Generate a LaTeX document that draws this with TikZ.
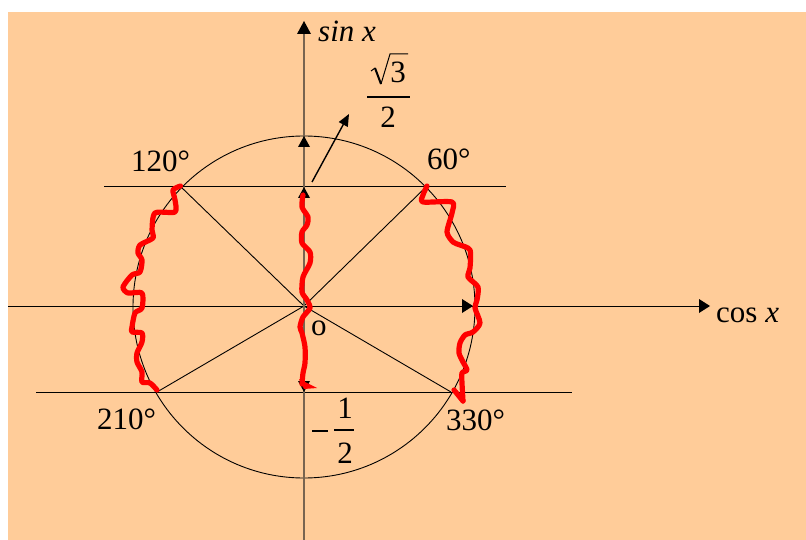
\documentclass[tikz,border=0pt]{standalone}
\usepackage{fontspec}
\setmainfont{Liberation Serif}
\usetikzlibrary{arrows.meta}
\definecolor{peach}{RGB}{255,204,153}
\definecolor{axisbrown}{RGB}{120,100,80}
\begin{document}
\begin{tikzpicture}[x=1pt,y=-1pt,
  thinline/.style={line width=0.9pt,black},
  redcurve/.style={red,line width=5.2pt,line join=round,line cap=round},
  lbl/.style={font=\fontsize{31}{36}\selectfont,inner sep=0pt},
  tip/.style={fill=black}]
\useasboundingbox (0,0) rectangle (806,540);
\fill[white] (0,0) rectangle (806,540);
\fill[peach] (8,12) rectangle (806,540);

% key points
\coordinate (O) at (304,306);
\coordinate (C) at (304,307);
\coordinate (P60) at (427,186);
\coordinate (P120) at (180,186);
\coordinate (P210) at (157,392);
\coordinate (P330) at (451,392);
\coordinate (HL1) at (104,186);
\coordinate (HR1) at (506,186);
\coordinate (HL2) at (36,392);
\coordinate (HR2) at (572,392);
\coordinate (XL) at (8,306);
\coordinate (XR) at (699,306);
\coordinate (YB) at (304,540);
\coordinate (YT) at (304,34);
\coordinate (AS) at (312,182);
\coordinate (AE) at (349,114);

% circle
\draw[thinline] (C) circle[radius=171pt];

% horizontal lines
\draw[thinline] (HL1) -- (HR1);
\draw[thinline] (HL2) -- (HR2);

% radii
\draw[thinline] (P120) -- (O) -- (P330);
\draw[thinline] (P60) -- (O) -- (P210);

% axes
\draw[thinline] (XL) -- (XR);
\fill[tip] (710,306) -- (699,299) -- (699,313) -- cycle;
\draw[line width=1.1pt,axisbrown] (YB) -- (YT);
\fill[tip] (304,21) -- (297,34) -- (311,34) -- cycle;

% small arrowheads on the axes
\fill[tip] (304,136) -- (298,147) -- (310,147) -- cycle;
\fill[tip] (304,187) -- (298,198) -- (310,198) -- cycle;
\fill[tip] (304,392) -- (298,381) -- (310,381) -- cycle;
\fill[tip] (473,306) -- (462,299) -- (462,313) -- cycle;

% arrow towards sqrt3/2
\draw[line width=1.4pt,-{Triangle[length=12pt,width=10pt]}] (AS) -- (AE);

% red curves
\draw[redcurve] plot[smooth,tension=0.45] coordinates {
 (180.5,186) (173,190) (175,200) (175,212) (155,213) (152,230) (153,238)
 (140,245) (138,253) (142,260) (140,272) (132,275) (123,287) (128,293)
 (142,293) (142,308) (135,313) (132,327) (132,332) (142,333) (142,342)
 (137,353) (137,362) (142,372) (142,382) (150,383) (157,390)};

\draw[redcurve] plot[smooth,tension=0.45] coordinates {
 (303,195) (302,207) (308,217) (307,225) (302,232) (302,243) (310,252)
 (310,263) (303,277) (302,292) (307,300) (310,308) (303,317) (300,327)
 (302,333) (305,347) (305,363) (303,373) (302,384)};
\fill[red] (299,379) -- (317,388) -- (304,389) -- cycle;

\draw[redcurve] plot[smooth,tension=0.45] coordinates {
 (427,186) (423,195) (423,202) (452,202) (452,213) (447,232) (453,242)
 (460,245) (470,250) (470,268) (468,277) (478,287) (477,300) (475,308)
 (480,323) (473,332) (465,335) (460,343) (459,353) (463,362) (467,370)
 (462,373) (462,383) (463,401)};
\draw[redcurve] (463,401) -- (454,390);

% labels
\node[lbl,anchor=base west] (lsin) at (318,42) {\textit{sin x}};
\node[lbl,anchor=base west] (lcos) at (716,322) {cos \textit{x}};
\node[lbl,anchor=base west] (l120) at (131,172) {120°};
\node[lbl,anchor=base west] (l60) at (427,170) {60°};
\node[lbl,anchor=base west] (l210) at (97,429) {210°};
\node[lbl,anchor=base west] (l330) at (446,430) {330°};
\node[lbl,anchor=base west] (lo) at (311,335) {o};

% sqrt(3)/2
\node[lbl,anchor=base] (l3) at (398,83) {3};
\draw[line width=1pt] (371,71) -- (375,68);
\draw[line width=2pt] (375,68) -- (381,84);
\draw[line width=1pt] (381,84) -- (390,54) -- (408,54);
\draw[line width=1.1pt] (367,97) -- (410,97);
\node[lbl,anchor=base] (l2a) at (388,128) {2};

% -1/2
\draw[line width=1.1pt] (312,431) -- (328,431);
\draw[line width=1.1pt] (334,430) -- (354,430);
\node[lbl,anchor=base] (l1) at (345,418) {1};
\node[lbl,anchor=base] (l2b) at (345,463) {2};
\end{tikzpicture}
\end{document}
